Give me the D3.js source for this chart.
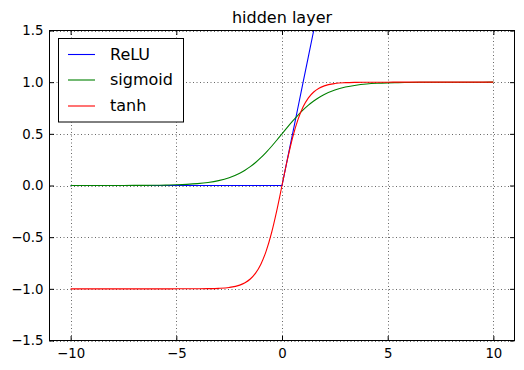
<!DOCTYPE html>
<html><head><meta charset="utf-8">
<script src="https://cdn.jsdelivr.net/npm/d3@7"></script>
<style>body{margin:0;background:#fff}svg{display:block}text{font-family:"DejaVu Sans",sans-serif;fill:#000}</style>
</head><body>
<svg id="c" width="524" height="370"></svg>
<script>
const title = "hidden layer";
const seriesNames = ["ReLU", "sigmoid", "tanh"];
const seriesColors = ["#0000ff", "#008000", "#ff0000"];
const xTicks = [-10, -5, 0, 5, 10];
const yTicks = [-1.5, -1.0, -0.5, 0.0, 0.5, 1.0, 1.5];
const xs = [-10,-9.5,-9,-8.5,-8,-7.5,-7,-6.5,-6,-5.5,-5,-4.5,-4,-3.5,-3,-2.5,-2,-1.75,-1.5,-1.25,-1,-0.75,-0.5,-0.25,0,
  0.25,0.5,0.75,1,1.25,1.5,1.75,2,2.5,3,3.5,4,4.5,5,5.5,6,6.5,7,7.5,8,8.5,9,9.5,10];
const relu = [0,0,0,0,0,0,0,0,0,0,0,0,0,0,0,0,0,0,0,0,0,0,0,0,0,
  0.25,0.5,0.75,1,1.25,1.5,1.75,2,2.5,3,3.5,4,4.5,5,5.5,6,6.5,7,7.5,8,8.5,9,9.5,10];
const sigmoid = [0.0000,0.0001,0.0001,0.0002,0.0003,0.0006,0.0009,0.0015,0.0025,0.0041,0.0067,0.0110,0.0180,0.0293,0.0474,0.0759,0.1192,0.1480,0.1824,0.2227,0.2689,0.3208,0.3775,0.4378,0.5000,
  0.5622,0.6225,0.6792,0.7311,0.7773,0.8176,0.8520,0.8808,0.9241,0.9526,0.9707,0.9820,0.9890,0.9933,0.9959,0.9975,0.9985,0.9991,0.9994,0.9997,0.9998,0.9999,0.9999,1.0000];
const tanh = [-1.0000,-1.0000,-1.0000,-1.0000,-1.0000,-1.0000,-1.0000,-1.0000,-1.0000,-1.0000,-0.9999,-0.9998,-0.9993,-0.9982,-0.9951,-0.9866,-0.9640,-0.9414,-0.9051,-0.8483,-0.7616,-0.6351,-0.4621,-0.2449,0.0000,
  0.2449,0.4621,0.6351,0.7616,0.8483,0.9051,0.9414,0.9640,0.9866,0.9951,0.9982,0.9993,0.9998,0.9999,1.0000,1.0000,1.0000,1.0000,1.0000,1.0000,1.0000,1.0000,1.0000,1.0000];

const svg = d3.select("#c");
const L = 49.5, R = 514.5, T = 30.5, B = 340.5;
const x = d3.scaleLinear().domain([-11, 11]).range([L, R]);
const y = d3.scaleLinear().domain([-1.5, 1.5]).range([B, T]);

svg.append("defs").append("clipPath").attr("id","clip").append("rect")
  .attr("x", L).attr("y", T).attr("width", R-L).attr("height", B-T);

// grid
const g = svg.append("g");
g.selectAll(".gx").data(xTicks).enter().append("line")
  .attr("x1", d=>Math.round(x(d))+0.5).attr("x2", d=>Math.round(x(d))+0.5).attr("y1", T).attr("y2", B)
  .attr("stroke","#000").attr("stroke-width",0.6).attr("stroke-dasharray","1,2.5");
g.selectAll(".gy").data(yTicks).enter().append("line")
  .attr("y1", d=>Math.round(y(d))+0.5).attr("y2", d=>Math.round(y(d))+0.5).attr("x1", L).attr("x2", R)
  .attr("stroke","#000").attr("stroke-width",0.6).attr("stroke-dasharray","1,2.5");

// lines
const data = [relu, sigmoid, tanh];
const lg = svg.append("g").attr("clip-path","url(#clip)");
data.forEach((vals, i) => {
  const line = d3.line().x((d,j)=>x(xs[j])).y(d=>y(d)).curve(i===0 ? d3.curveLinear : d3.curveMonotoneX);
  lg.append("path").attr("d", line(vals)).attr("fill","none")
    .attr("stroke", seriesColors[i]).attr("stroke-width", 1.1);
});

// axes with inward ticks on all sides
const tl = 4.5;
const axB = svg.append("g").attr("transform",`translate(0,${B})`)
  .call(d3.axisBottom(x).tickValues(xTicks).tickSize(-tl).tickPadding(8).tickFormat(d=>d<0?"\u2212"+Math.abs(d):d));
const axT = svg.append("g").attr("transform",`translate(0,${T})`)
  .call(d3.axisTop(x).tickValues(xTicks).tickSize(-tl).tickFormat(""));
const axL = svg.append("g").attr("transform",`translate(${L},0)`)
  .call(d3.axisLeft(y).tickValues(yTicks).tickSize(-tl).tickPadding(6).tickFormat(d=>(d<0?"\u2212":"")+Math.abs(d).toFixed(1)));
const axR = svg.append("g").attr("transform",`translate(${R},0)`)
  .call(d3.axisRight(y).tickValues(yTicks).tickSize(-tl).tickFormat(""));
[axB,axT,axL,axR].forEach(a=>{
  a.select(".domain").remove();
  a.selectAll("line").attr("stroke","#000").attr("stroke-width",1);
  a.selectAll("text").attr("font-size","13.3px").attr("font-family","DejaVu Sans").attr("fill","#000");
});
axB.selectAll("text").attr("dy","0.71em");

// frame
svg.append("rect").attr("x",L).attr("y",T).attr("width",R-L).attr("height",B-T)
  .attr("fill","none").attr("stroke","#000").attr("stroke-width",1);

// title
svg.append("text").attr("x",(L+R)/2).attr("y",23).attr("text-anchor","middle")
  .attr("font-size","16px").text(title);

// legend
const leg = svg.append("g");
leg.append("rect").attr("x",58.5).attr("y",38.5).attr("width",125).attr("height",83.5)
  .attr("fill","#fff").attr("stroke","#000").attr("stroke-width",1);
const rowY = [54, 79.5, 105.5];
seriesNames.forEach((n,i)=>{
  leg.append("line").attr("x1",68).attr("x2",95).attr("y1",rowY[i]+0.5).attr("y2",rowY[i]+0.5)
    .attr("stroke",seriesColors[i]).attr("stroke-width",1.1);
  leg.append("text").attr("x",110).attr("y",rowY[i]).attr("dy","0.36em")
    .attr("font-size","16px").text(n);
});
</script>
</body></html>
